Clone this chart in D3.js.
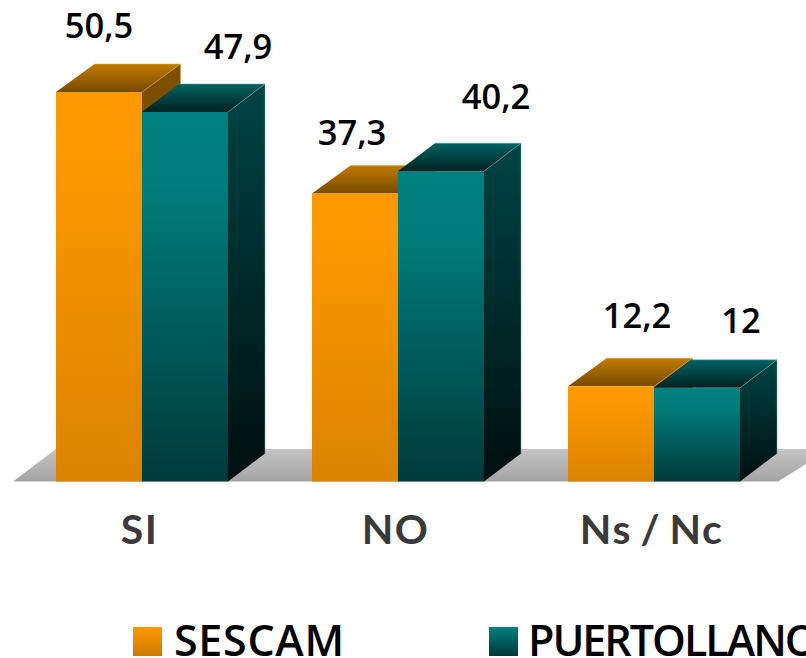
<!DOCTYPE html>
<html><head><meta charset="utf-8">
<script src="https://cdn.jsdelivr.net/npm/d3@7"></script>
<style>html,body{margin:0;padding:0;background:#fff;overflow:hidden}svg{display:block}</style>
</head><body><svg id="c" width="806" height="658"></svg>
<script>
const categories = ["SI","NO","Ns / Nc"];
const seriesNames = ["SESCAM","PUERTOLLANO"];
const sescamValues = [50.5,37.3,12.2];
const puertollanoValues = [47.9,40.2,12];
const valueLabels = [["50,5","37,3","12,2"],["47,9","40,2","12"]];
const labelDx = [[0,-3,26],[53,55,44]];
const labelDy = [[-54,-48,-58],[-53,-62,-55]];

const W=806,H=658,baseY=481.5,depthX=[38.5,37],dy=28;
const svg=d3.select("#c");
const defs=svg.append("defs");
function grad(id,stops){
  const g=defs.append("linearGradient").attr("id",id).attr("x1",0).attr("y1",0).attr("x2",0).attr("y2",1);
  stops.forEach(s=>g.append("stop").attr("offset",s[0]).attr("stop-color",s[1]));
}
grad("fF0",[[0,"#ff9900"],[0.2,"#fb9700"],[1,"#da8300"]]);
grad("fF1",[[0,"#008080"],[0.2,"#007c7c"],[1,"#003a3a"]]);
grad("fT0",[[0,"#c27a00"],[1,"#774b00"]]);
grad("fT1",[[0,"#006262"],[1,"#002222"]]);
grad("fS0",[[0,"#805000"],[1,"#5f3c00"]]);
grad("fS1",[[0,"#004444"],[1,"#000f0f"]]);
grad("fFloor",[[0,"#c4c4c4"],[1,"#a4a4a4"]]);
grad("lg0",[[0,"#ff9900"],[1,"#cc7a00"]]);
grad("lg1",[[0,"#008080"],[1,"#003838"]]);

const x0=d3.scaleBand().domain(categories).range([13,781]);
const x1=d3.scaleBand().domain(seriesNames).range([43,215]);
const y=d3.scaleLinear().domain([0,50.5]).range([480,92]);
const line=d3.line();

// floor
svg.append("path").attr("fill","url(#fFloor)")
  .attr("d",line([[13,baseY],[56,449],[830,449],[778,baseY]])+"Z");

const rows=categories.map((c,i)=>({c,i,vals:[sescamValues[i],puertollanoValues[i]]}));
const edge=["#d9a050","#6fa3a3"];
const g=svg.selectAll("g.grp").data(rows).join("g").attr("class","grp");
g.each(function(r){
  const sel=d3.select(this);
  r.vals.forEach((v,s)=>{
    const name=seriesNames[s],dx=depthX[s];
    const l=x0(r.c)+x1(name),rt=l+x1.bandwidth(),t=y(v),b=baseY;
    const bar=sel.append("g");
    bar.append("path").attr("fill",`url(#fS${s})`)
      .attr("d",line([[rt,t],[rt+dx,t-dy],[rt+dx,b-dy],[rt,b]])+"Z");
    bar.append("path").attr("fill",`url(#fT${s})`)
      .attr("d",line([[l,t],[l+dx,t-dy],[rt+dx,t-dy],[rt,t]])+"Z");
    bar.append("path").attr("fill","none").attr("stroke",edge[s]).attr("stroke-width",0.7).attr("opacity",0.7)
      .attr("d",line([[l+dx,t-dy],[rt+dx,t-dy],[rt+dx,b-dy]])+"M"+rt+","+t+"L"+(rt+dx)+","+(t-dy));
    bar.append("rect").attr("x",l).attr("y",t).attr("width",x1.bandwidth()).attr("height",b-t).attr("fill",`url(#fF${s})`);
  });
});

// value labels
rows.forEach(r=>r.vals.forEach((v,s)=>{
  svg.append("text").attr("x",x0(r.c)+x1(seriesNames[s])+x1.bandwidth()/2+labelDx[s][r.i])
    .attr("y",y(v)+labelDy[s][r.i]).attr("text-anchor","middle")
    .attr("font-family","'Open Sans'").attr("font-weight",600).attr("font-size",34.5).attr("fill","#000")
    .text(valueLabels[s][r.i]);
}));

// category axis
const axis=svg.append("g").attr("transform",`translate(-1.5,${baseY})`)
  .call(d3.axisBottom(x0).tickSize(0).tickPadding(34));
axis.select(".domain").remove();
axis.selectAll("text").attr("font-family","Lato").attr("font-weight",700).attr("font-size",41)
  .attr("letter-spacing",1.5).attr("word-spacing",-3).attr("fill","#3a3a3a").attr("dy","0.7em");

// legend
const lgX=d3.scaleOrdinal().domain(seriesNames).range([133,489]);
const lg=svg.selectAll("g.lg").data(seriesNames).join("g").attr("class","lg")
  .attr("transform",d=>`translate(${lgX(d)},627)`);
lg.append("rect").attr("width",29).attr("height",29).attr("fill",(d,i)=>`url(#lg${i})`);
lg.append("text").attr("x",(d,i)=>i?39:41).attr("y",29).attr("font-family","'Open Sans'").attr("font-weight",600)
  .attr("font-size",43).attr("letter-spacing",(d,i)=>i?-2:0.7).attr("fill","#000").text(d=>d);
</script></body></html>
